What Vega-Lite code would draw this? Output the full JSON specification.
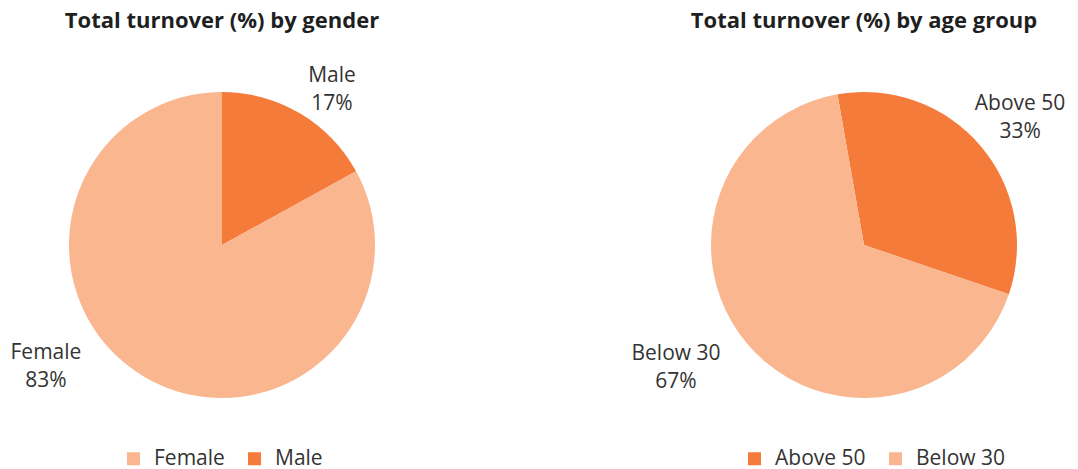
{
  "$schema": "https://vega.github.io/schema/vega-lite/v6.json",
  "padding": {"left": 0, "top": 10, "right": 0, "bottom": 0},
  "background": "white",
  "bounds": "flush",
  "config": {
    "view": {"stroke": null},
    "font": "Open Sans",
    "title": {"fontSize": 22, "fontWeight": "bold", "color": "#1f1f1f", "anchor": "middle", "offset": 28},
    "legend": {
      "orient": "none", "direction": "horizontal", "title": null,
      "labelFontSize": 21, "labelColor": "#333333", "labelFont": "Open Sans",
      "symbolType": "square", "symbolSize": 169, "symbolStrokeWidth": 0,
      "labelOffset": 10, "columnPadding": 19
    }
  },
  "datasets": {
    "gender": [
      {"category": "Male", "share": 0.17},
      {"category": "Female", "share": 0.83}
    ],
    "age": [
      {"category": "Above 50", "share": 0.33},
      {"category": "Below 30", "share": 0.67}
    ]
  },
  "spacing": 206,
  "resolve": {"scale": {"color": "independent", "theta": "independent"}, "legend": {"color": "independent"}},
  "hconcat": [
    {
      "width": 444,
      "height": 368,
      "title": "Total turnover (%) by gender",
      "data": {"name": "gender"},
      "transform": [{"calculate": "datum.category + '\\n' + format(datum.share, '.0%')", "as": "label"}],
      "encoding": {
        "theta": {"field": "share", "type": "quantitative", "stack": true},
        "order": {"field": "category", "sort": "descending"}
      },
      "layer": [
        {
          "mark": {"type": "arc", "outerRadius": 153},
          "encoding": {
            "color": {"field": "category", "type": "nominal",
              "scale": {"domain": ["Female", "Male"], "range": ["#F9B68F", "#F47B3A"]},
              "legend": {"legendX": 123, "legendY": 387}}
          }
        },
        {
          "mark": {"type": "text", "radius": 201.6, "thetaOffset": 0.043, "fontSize": 21, "lineBreak": "\n", "lineHeight": 28, "color": "#333333", "align": "center", "baseline": "middle"},
          "encoding": {
            "text": {"condition": {"test": "datum.category === 'Male'", "field": "label"}, "value": ""}
          }
        },
        {
          "mark": {"type": "text", "radius": 206.5, "thetaOffset": 0.487, "fontSize": 21, "lineBreak": "\n", "lineHeight": 28, "color": "#333333", "align": "center", "baseline": "middle"},
          "encoding": {
            "text": {"condition": {"test": "datum.category === 'Female'", "field": "label"}, "value": ""}
          }
        }
      ]
    },
    {
      "width": 428,
      "height": 368,
      "title": "Total turnover (%) by age group",
      "data": {"name": "age"},
      "transform": [{"calculate": "datum.category + '\\n' + format(datum.share, '.0%')", "as": "label"}],
      "encoding": {
        "theta": {"field": "share", "type": "quantitative", "stack": true, "scale": {"range": [-0.1745, 6.1087]}},
        "order": {"field": "category", "sort": "ascending"}
      },
      "layer": [
        {
          "mark": {"type": "arc", "outerRadius": 153},
          "encoding": {
            "color": {"field": "category", "type": "nominal",
              "scale": {"domain": ["Above 50", "Below 30"], "range": ["#F47B3A", "#F9B68F"]},
              "legend": {"legendX": 94, "legendY": 387}}
          }
        },
        {
          "mark": {"type": "text", "radius": 210.3, "thetaOffset": -0.026, "fontSize": 21, "lineBreak": "\n", "lineHeight": 28, "color": "#333333", "align": "center", "baseline": "middle"},
          "encoding": {
            "text": {"condition": {"test": "datum.category === 'Above 50'", "field": "label"}, "value": ""}
          }
        },
        {
          "mark": {"type": "text", "radius": 217.3, "thetaOffset": 0.183, "fontSize": 21, "lineBreak": "\n", "lineHeight": 28, "color": "#333333", "align": "center", "baseline": "middle"},
          "encoding": {
            "text": {"condition": {"test": "datum.category === 'Below 30'", "field": "label"}, "value": ""}
          }
        }
      ]
    }
  ]
}
